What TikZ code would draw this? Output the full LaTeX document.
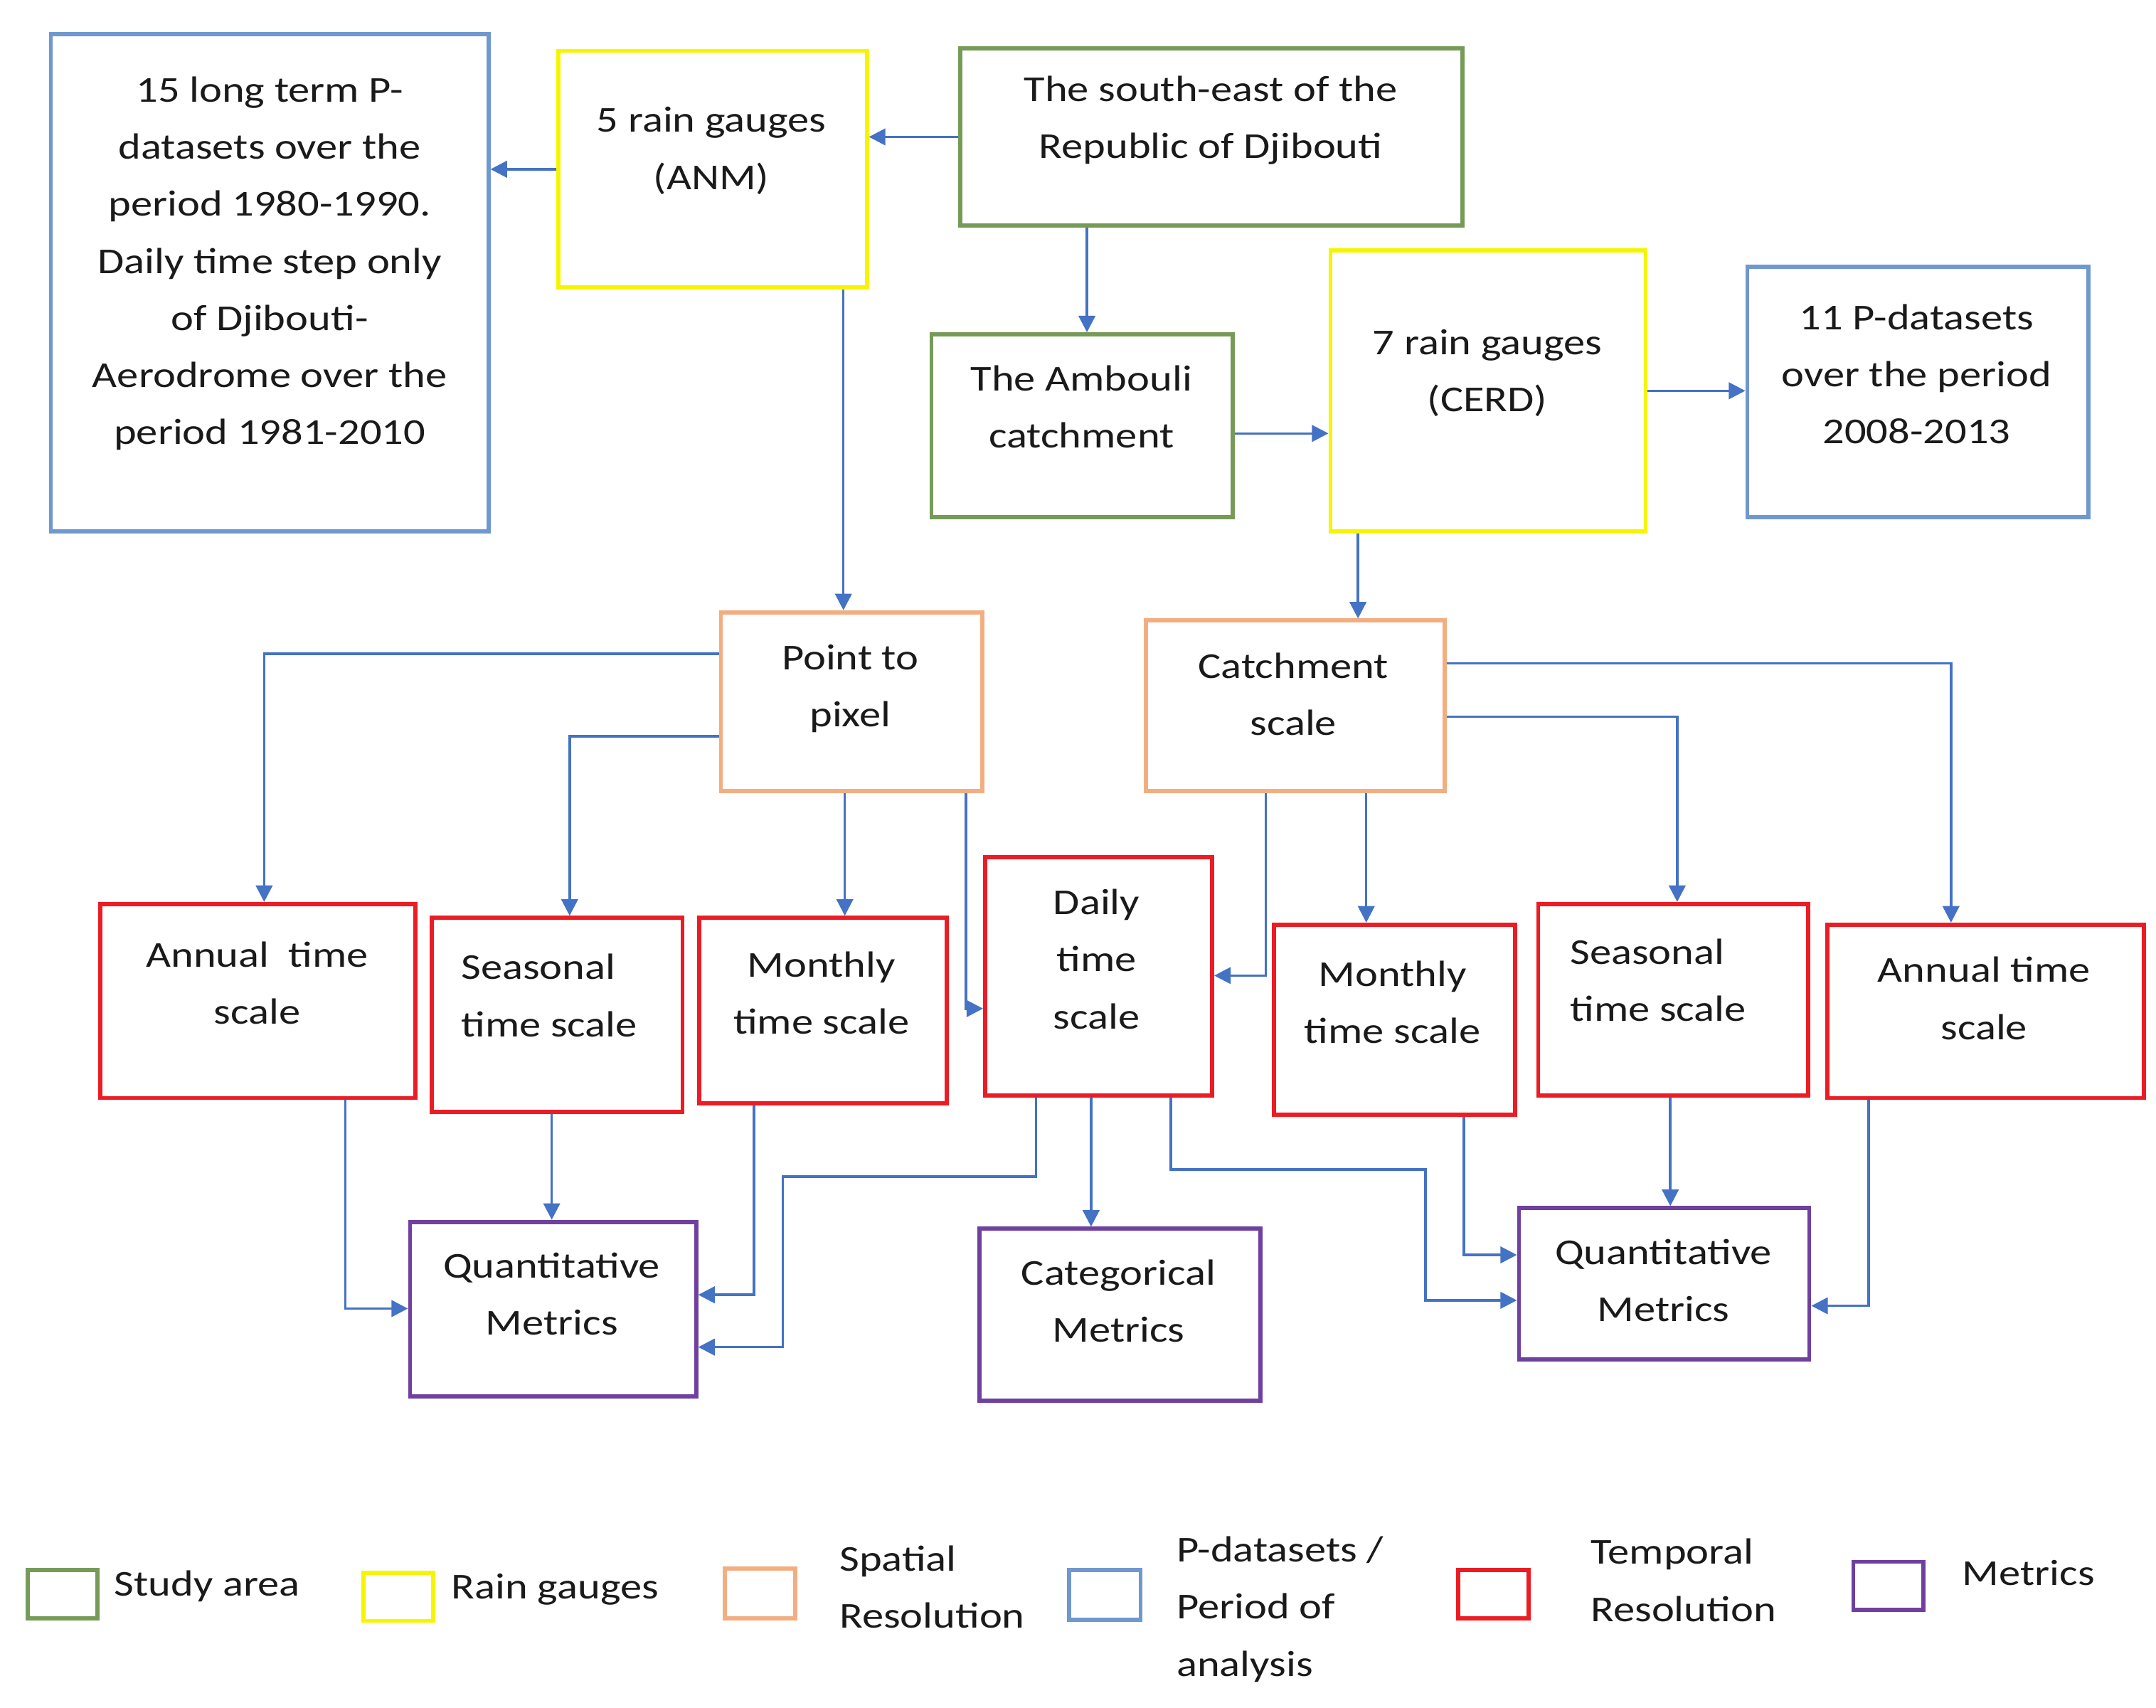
\documentclass[tikz,border=0pt]{standalone}
\usepackage{fontspec}
\setmainfont{Carlito}[FakeStretch=1.18]
\usetikzlibrary{arrows.meta}
\definecolor{cgreen}{HTML}{769B57}
\definecolor{cyellow}{HTML}{F5F500}
\definecolor{corange}{HTML}{F2AE80}
\definecolor{cblue}{HTML}{6F98CE}
\definecolor{cred}{HTML}{EC1C24}
\definecolor{cpurple}{HTML}{7040A0}
\definecolor{carrow}{HTML}{4472C4}
\definecolor{ctext}{HTML}{1A1A1A}
\tikzset{
  box/.style={draw=#1, line width=3pt, inner sep=0pt, fill=white},
  txt/.style={font=\fontsize{26.5}{41.5}\selectfont, text=ctext, align=center, inner sep=0pt},
  ltxt/.style={txt, align=left},
  arr/.style={draw=carrow, line width=1.8pt, -{Triangle[length=12pt,width=12pt]}},
}
\begin{document}
\begin{tikzpicture}[x=1pt,y=-1pt]
\fill[white] (0,0) rectangle (1567,1241);
\useasboundingbox (0,0) rectangle (1567,1241);
% boxes
\node[box=cblue, minimum width=318pt, minimum height=361pt] (bl1) at (196,205.5) {};
\node[box=cyellow, minimum width=224pt, minimum height=172pt] (anm) at (518,123) {};
\node[box=cgreen, minimum width=365pt, minimum height=129pt] (se) at (880.5,99.5) {};
\node[box=cgreen, minimum width=219pt, minimum height=133pt] (amb) at (786.5,309.5) {};
\node[box=cyellow, minimum width=229pt, minimum height=204pt] (cerd) at (1081.5,284) {};
\node[box=cblue, minimum width=248pt, minimum height=182pt] (bl2) at (1394,285) {};
\node[box=corange, minimum width=190pt, minimum height=130pt] (pp) at (619,510) {};
\node[box=corange, minimum width=217pt, minimum height=124pt] (cs) at (941.5,513) {};
\node[box=cred, minimum width=229pt, minimum height=141pt] (an1) at (187.5,727.5) {};
\node[box=cred, minimum width=182pt, minimum height=141pt] (se1) at (405,737.5) {};
\node[box=cred, minimum width=180pt, minimum height=135pt] (mo1) at (598,734.5) {};
\node[box=cred, minimum width=165pt, minimum height=173pt] (da) at (798.5,709.5) {};
\node[box=cred, minimum width=175pt, minimum height=138pt] (mo2) at (1013.5,741) {};
\node[box=cred, minimum width=196pt, minimum height=139pt] (se2) at (1216,726.5) {};
\node[box=cred, minimum width=230pt, minimum height=126pt] (an2) at (1443,735) {};
\node[box=cpurple, minimum width=208pt, minimum height=127pt] (qm1) at (402,951.5) {};
\node[box=cpurple, minimum width=204pt, minimum height=125pt] (cat) at (814,955.5) {};
\node[box=cpurple, minimum width=211pt, minimum height=110pt] (qm2) at (1209.5,933) {};
% texts
\node[txt] (t-bl1) at (196,191.5) {15 long term P-\\datasets over the\\period 1980-1990.\\Daily time step only\\of Djibouti-\\Aerodrome over the\\period 1981-2010};
\node[txt] (t-anm) at (517,109.5) {5 rain gauges\\(ANM)};
\node[txt] (t-se) at (880,87.5) {The south-east of the\\Republic of Djibouti};
\node[txt] (t-amb) at (786,295.5) {The Ambouli\\catchment};
\node[txt] (t-cerd) at (1081,271) {7 rain gauges\\(CERD)};
\node[txt] (t-bl2) at (1393,272) {11 P-datasets\\over the period\\2008-2013};
\node[txt] (t-pp) at (618,500.5) {Point to\\pixel};
\node[txt] (t-cs) at (940,504.5) {Catchment\\scale};
\node[txt] (t-an1) at (187,714.5) {Annual\ \ time\\scale};
\node[ltxt, anchor=west] (t-se1) at (335,723.5) {Seasonal\\time scale};
\node[txt] (t-mo1) at (597,721.5) {Monthly\\time scale};
\node[txt] (t-da) at (797,697) {Daily\\time\\scale};
\node[txt] (t-mo2) at (1012,728.5) {Monthly\\time scale};
\node[ltxt, anchor=west] (t-se2) at (1141,712.5) {Seasonal\\time scale};
\node[txt] (t-an2) at (1442,725.5) {Annual time\\scale};
\node[txt] (t-qm1) at (401,940.5) {Quantitative\\Metrics};
\node[txt] (t-cat) at (813,945.5) {Categorical\\Metrics};
\node[txt] (t-qm2) at (1209,930.5) {Quantitative\\Metrics};
% connectors
\draw[arr] (se.west) -- (se.west -| anm.east);
\draw[arr] (anm.west) -- (anm.west -| bl1.east);
\draw[arr] (se.south -| 790,0) -- (amb.north -| 790,0);
\draw[arr] (amb.east |- 0,315) -- (cerd.west |- 0,315);
\draw[arr] (cerd.east) -- (cerd.east -| bl2.west);
\draw[arr] (anm.south -| 613,0) -- (pp.north -| 613,0);
\draw[arr] (cerd.south -| 987,0) -- (cs.north -| 987,0);
\draw[arr] (pp.west |- 0,475) -| (an1.north -| 192,0);
\draw[arr] (pp.west |- 0,535) -| (se1.north -| 414,0);
\draw[arr] (pp.south -| 614,0) -- (mo1.north -| 614,0);
\draw[arr] (pp.south -| 702,0) |- (da.west |- 0,733);
\draw[arr] (cs.south -| 920,0) |- (da.east |- 0,709);
\draw[arr] (cs.south -| 993,0) -- (mo2.north -| 993,0);
\draw[arr] (cs.east |- 0,521) -| (se2.north -| 1219,0);
\draw[arr] (cs.east |- 0,482) -| (an2.north -| 1418,0);
\draw[arr] (an1.south -| 251,0) |- (qm1.west |- 0,951);
\draw[arr] (se1.south -| 401,0) -- (qm1.north -| 401,0);
\draw[arr] (mo1.south -| 548,0) |- (qm1.east |- 0,941);
\draw[arr] (da.south -| 753,0) -- (753,855) -| (569,979) -- (qm1.east |- 0,979);
\draw[arr] (da.south -| 793,0) -- (cat.north -| 793,0);
\draw[arr] (da.south -| 851,0) |- (1036,850) |- (qm2.west |- 0,945);
\draw[arr] (mo2.south -| 1064,0) |- (qm2.west |- 0,912);
\draw[arr] (se2.south -| 1214,0) -- (qm2.north -| 1214,0);
\draw[arr] (an2.south -| 1358,0) |- (qm2.east |- 0,949);
% legend
\node[box=cgreen, minimum width=51pt, minimum height=35pt] (lg1) at (45.5,1158.5) {};
\node[ltxt, anchor=west] (lt1) at (83,1153) {Study area};
\node[box=cyellow, minimum width=51pt, minimum height=35pt] (lg2) at (289.5,1160.5) {};
\node[ltxt, anchor=west] (lt2) at (328,1155) {Rain gauges};
\node[box=corange, minimum width=51pt, minimum height=36pt] (lg3) at (552.5,1158) {};
\node[ltxt, anchor=west] (lt3) at (610,1153.5) {Spatial\\Resolution};
\node[box=cblue, minimum width=52pt, minimum height=36pt] (lg4) at (803,1159) {};
\node[ltxt, anchor=west] (lt4) at (855,1169.5) {P-datasets /\\Period of\\analysis};
\node[box=cred, minimum width=51pt, minimum height=35pt] (lg5) at (1085.5,1158.5) {};
\node[ltxt, anchor=west] (lt5) at (1156,1148.5) {Temporal\\Resolution};
\node[box=cpurple, minimum width=51pt, minimum height=35pt] (lg6) at (1372.5,1152.5) {};
\node[ltxt, anchor=west] (lt6) at (1426,1143) {Metrics};
\end{tikzpicture}
\end{document}
